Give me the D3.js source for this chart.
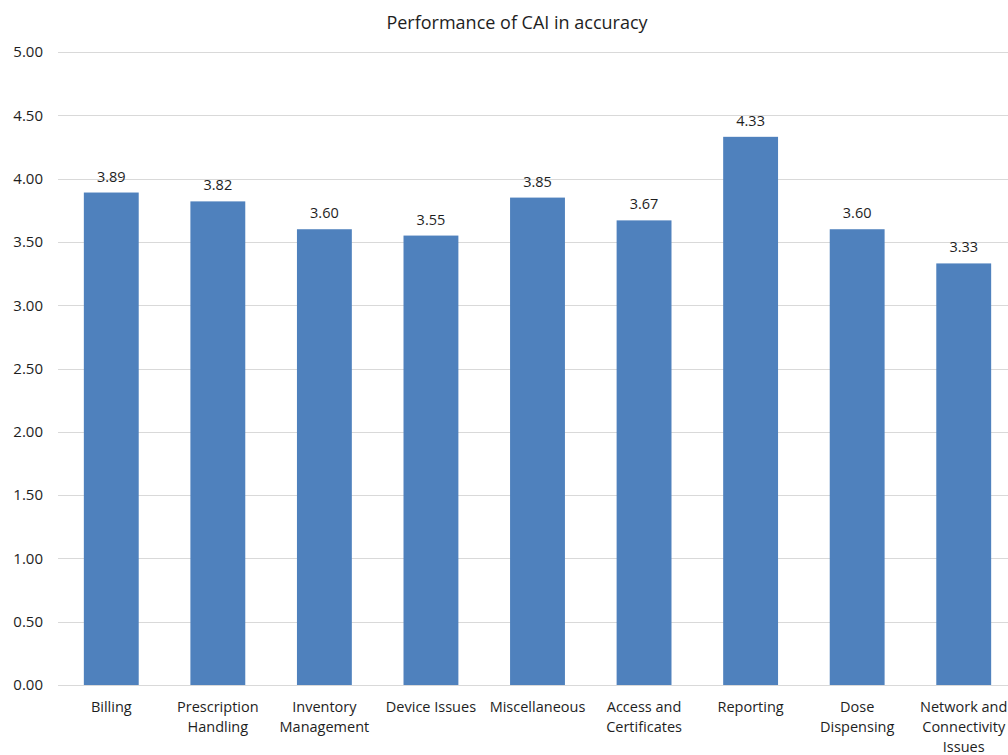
<!DOCTYPE html>
<html>
<head>
<meta charset="utf-8">
<script src="https://cdn.jsdelivr.net/npm/d3@7"></script>
<style>
  html, body { margin: 0; padding: 0; background: #fff; overflow: hidden; }
  svg { display: block; font-family: "Open Sans", "Liberation Sans", sans-serif; }
</style>
</head>
<body>
<svg id="chart" width="1008" height="755"></svg>
<script>
// Mean accuracy scores by issue category
const categories = [
  ["Billing"],
  ["Prescription", "Handling"],
  ["Inventory", "Management"],
  ["Device Issues"],
  ["Miscellaneous"],
  ["Access and", "Certificates"],
  ["Reporting"],
  ["Dose", "Dispensing"],
  ["Network and", "Connectivity", "Issues"]
];
const scores = [3.89, 3.82, 3.60, 3.55, 3.85, 3.67, 4.33, 3.60, 3.33];
const yTicks = [0, 0.5, 1, 1.5, 2, 2.5, 3, 3.5, 4, 4.5, 5];
const title = "Performance of CAI in accuracy";

const svg = d3.select("#chart");
const keys = categories.map((c, i) => i);

const x = d3.scaleBand()
  .domain(keys)
  .range([58, 1017])
  .paddingInner(0.485)
  .paddingOuter(0.2425);

const y = d3.scaleLinear()
  .domain([0, 5])
  .range([685, 52]);

// Horizontal gridlines
svg.append("g")
  .selectAll("line")
  .data(yTicks)
  .join("line")
  .attr("x1", 58)
  .attr("x2", 1017)
  .attr("y1", d => Math.round(y(d)) + 0.5)
  .attr("y2", d => Math.round(y(d)) + 0.5)
  .attr("stroke", "#d9d9d9")
  .attr("stroke-width", 1);

// Y axis labels
const yAxis = d3.axisLeft(y)
  .tickValues(yTicks)
  .tickFormat(d3.format(".2f"))
  .tickSize(0)
  .tickPadding(0);
svg.append("g")
  .attr("transform", "translate(43,0)")
  .call(yAxis)
  .call(g => g.select(".domain").remove())
  .call(g => g.selectAll("text")
    .attr("font-size", 15)
    .attr("font-family", "\"Open Sans\", sans-serif")
    .attr("fill", "#1e1e1e"));

// Bars
svg.append("g")
  .selectAll("rect")
  .data(scores)
  .join("rect")
  .attr("x", (d, i) => x(i))
  .attr("width", x.bandwidth())
  .attr("y", d => y(d))
  .attr("height", d => y(0) - y(d))
  .attr("fill", "#4f81bd");

// Value labels
svg.append("g")
  .selectAll("text")
  .data(scores)
  .join("text")
  .attr("x", (d, i) => x(i) + x.bandwidth() / 2)
  .attr("y", d => y(d) - 11)
  .attr("text-anchor", "middle")
  .attr("font-size", 14.5)
  .attr("fill", "#1e1e1e")
  .text(d => d3.format(".2f")(d));

// Category labels (wrapped)
const xAxis = svg.append("g");
categories.forEach((lines, i) => {
  const t = xAxis.append("text")
    .attr("x", x(i) + x.bandwidth() / 2)
    .attr("y", 712)
    .attr("text-anchor", "middle")
    .attr("font-size", 14.5)
    .attr("fill", "#1e1e1e");
  lines.forEach((ln, j) => {
    t.append("tspan")
      .attr("x", x(i) + x.bandwidth() / 2)
      .attr("y", 712 + j * 20)
      .text(ln);
  });
});

// Title
svg.append("text")
  .attr("x", 517)
  .attr("y", 29)
  .attr("text-anchor", "middle")
  .attr("font-size", 18)
  .attr("fill", "#1e1e1e")
  .text(title);
</script>
</body>
</html>
